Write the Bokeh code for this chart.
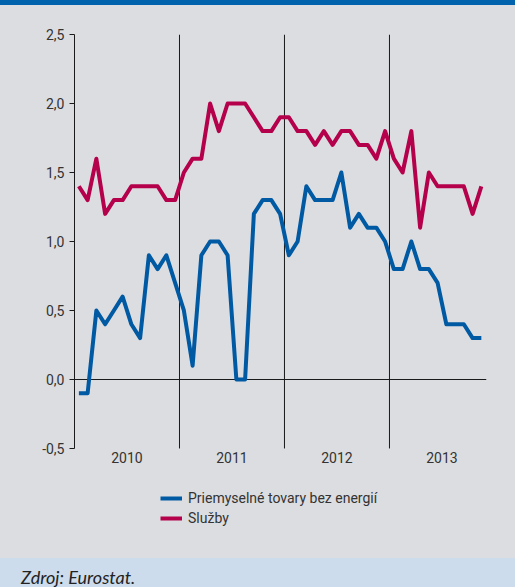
from bokeh.plotting import figure
from bokeh.layouts import column
from bokeh.models import FixedTicker, Legend, LegendItem, ColumnDataSource, Div
from bokeh.embed import file_html
from bokeh.resources import INLINE

# ---- data (monthly, Jan 2010 - Nov 2013) ----
years = ["2010", "2011", "2012", "2013"]
priemyselne = [-0.1, -0.1, 0.5, 0.4, 0.5, 0.6, 0.4, 0.3, 0.9, 0.8, 0.9, 0.7,
               0.5, 0.1, 0.9, 1.0, 1.0, 0.9, 0.0, 0.0, 1.2, 1.3, 1.3, 1.2,
               0.9, 1.0, 1.4, 1.3, 1.3, 1.3, 1.5, 1.1, 1.2, 1.1, 1.1, 1.0,
               0.8, 0.8, 1.0, 0.8, 0.8, 0.7, 0.4, 0.4, 0.4, 0.3, 0.3]
sluzby = [1.4, 1.3, 1.6, 1.2, 1.3, 1.3, 1.4, 1.4, 1.4, 1.4, 1.3, 1.3,
          1.5, 1.6, 1.6, 2.0, 1.8, 2.0, 2.0, 2.0, 1.9, 1.8, 1.8, 1.9,
          1.9, 1.8, 1.8, 1.7, 1.8, 1.7, 1.8, 1.8, 1.7, 1.7, 1.6, 1.8,
          1.6, 1.5, 1.8, 1.1, 1.5, 1.4, 1.4, 1.4, 1.4, 1.2, 1.4]
y_ticks = [-0.5, 0.0, 0.5, 1.0, 1.5, 2.0, 2.5]
y_tick_labels = ["-0,5", "0,0", "0,5", "1,0", "1,5", "2,0", "2,5"]
label_priem = "Priemyselné tovary bez energií"
label_sluzby = "Služby"
source_text = "Zdroj: Eurostat."

months_per_year = 12
x = [i + 0.5 for i in range(len(priemyselne))]
year_mid = [months_per_year * k + months_per_year / 2 for k in range(len(years))]
year_bounds = [months_per_year * k for k in range(1, len(years))]
y_min, y_max = y_ticks[0], y_ticks[-1]

BLUE = "#0059a3"
RED = "#b5004b"
GRAY = "#dcdde0"
FOOT = "#cddcec"
TEXT = "#333333"
LINE = "#1a1a1a"
FONT = "Roboto"
W = 515

# top bar
top = Div(text="", width=W, height=5, margin=0,
          styles={"background-color": "#0062ad"})

# main chart (frame extends below the value axis to hold the legend)
p = figure(width=W, height=553, output_backend="svg", toolbar_location=None,
           x_range=(0, 47.09), y_range=(-1.08, 2.5),
           min_border_left=74, min_border_right=29, min_border_top=29,
           min_border_bottom=30, margin=0,
           styles={"background-color": GRAY})
p.background_fill_color = None
p.border_fill_color = GRAY
p.outline_line_color = None

p.yaxis.ticker = FixedTicker(ticks=y_ticks)
p.yaxis.bounds = (y_min, y_max)
p.yaxis.major_label_overrides = {t: l for t, l in zip(y_ticks, y_tick_labels)}
p.yaxis.axis_line_color = LINE
p.yaxis.major_tick_line_color = LINE
p.yaxis.major_tick_out = 5
p.yaxis.major_tick_in = 0
p.yaxis.minor_tick_line_color = None
p.yaxis.major_label_standoff = 5
p.yaxis.major_label_text_font = FONT
p.yaxis.major_label_text_font_size = "14px"
p.yaxis.major_label_text_color = TEXT

p.xaxis.ticker = FixedTicker(ticks=year_mid)
p.xaxis.fixed_location = y_min
p.xaxis.major_label_overrides = {t: l for t, l in zip(year_mid, years)}
p.xaxis.axis_line_color = None
p.xaxis.major_tick_line_color = None
p.xaxis.minor_tick_line_color = None
p.xaxis.major_tick_out = 0
p.xaxis.major_label_standoff = 4
p.xaxis.major_label_text_font = FONT
p.xaxis.major_label_text_font_size = "14px"
p.xaxis.major_label_text_color = TEXT

p.xgrid.visible = False
p.ygrid.ticker = FixedTicker(ticks=[0.0])
p.ygrid.grid_line_color = LINE
p.ygrid.grid_line_width = 1

# year separators spanning the value axis
p.segment(x0=year_bounds, y0=[y_min] * len(year_bounds),
          x1=year_bounds, y1=[y_max] * len(year_bounds),
          line_color=LINE, line_width=1)

src = ColumnDataSource(dict(x=x, a=priemyselne, b=sluzby))
rb = p.line("x", "b", source=src, line_color=RED, line_width=4, line_join="round")
ra = p.line("x", "a", source=src, line_color=BLUE, line_width=4, line_join="round")

legend = Legend(items=[LegendItem(label=label_priem, renderers=[ra]),
                       LegendItem(label=label_sluzby, renderers=[rb])],
                location=(86, 0), orientation="vertical")
legend.background_fill_alpha = 0
legend.border_line_color = None
legend.padding = 0
legend.margin = 0
legend.spacing = 0
legend.glyph_width = 22
legend.glyph_height = 20
legend.label_height = 20
legend.label_standoff = 6
legend.label_text_font = FONT
legend.label_text_font_size = "14px"
legend.label_text_color = TEXT
p.add_layout(legend, "center")

# footer
foot = Div(text=source_text, width=W, height=29, margin=0,
           styles={"background-color": FOOT, "font-family": "Lato",
                   "font-style": "italic", "font-size": "18px",
                   "color": "#222222", "padding-left": "21px",
                   "padding-top": "10px", "line-height": "18px",
                   "box-sizing": "border-box", "overflow": "hidden"})

layout = column(top, p, foot, spacing=0, styles={"background-color": GRAY})
open("out.html", "w").write(file_html(layout, INLINE))
